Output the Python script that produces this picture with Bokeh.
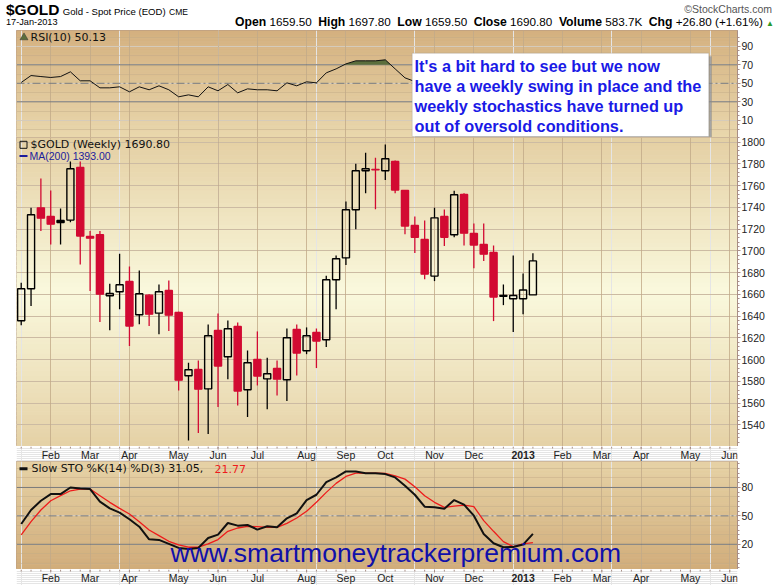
import numpy as np
import pandas as pd
from bokeh.plotting import figure
from bokeh.models import (Range1d, FixedTicker, Grid, Span, BoxAnnotation, Label, Div,
                          ColumnDataSource)
from bokeh.layouts import column
from bokeh.core.properties import value
from bokeh.embed import file_html
from bokeh.resources import INLINE

# ---------------- data ----------------
symbol = "$GOLD"
description = "Gold - Spot Price (EOD)"
exchange = "CME"
as_of = "17-Jan-2013"
first_week = "2012-01-16"
volume_text = "583.7K"
ma200_last = 1393.00

opens = [1635.7, 1665.1, 1739.6, 1731.7, 1728.0, 1728.3, 1776.7, 1713.3, 1714.8, 1658.7,
         1662.4, 1671.9, 1641.2, 1659.3, 1642.7, 1663.6, 1643.4, 1585.1, 1590.9, 1573.1,
         1626.8, 1602.6, 1630.5, 1572.2, 1600.1, 1582.3, 1591.9, 1581.4, 1627.7, 1608.1,
         1625.0, 1618.2, 1673.4, 1693.6, 1737.8, 1773.7, 1775.0, 1773.7, 1782.3, 1755.6,
         1723.4, 1710.5, 1676.8, 1731.7, 1714.8, 1751.9, 1716.0, 1705.9, 1698.5, 1659.0,
         1656.0, 1656.0, 1659.5]
highs = [1670.6, 1739.6, 1766.6, 1755.6, 1739.0, 1782.3, 1782.3, 1718.2, 1718.2, 1669.7,
         1697.3, 1685.7, 1682.0, 1660.2, 1669.1, 1672.8, 1644.0, 1597.1, 1599.2, 1632.3,
         1642.4, 1636.0, 1634.2, 1608.4, 1625.9, 1601.7, 1599.2, 1628.6, 1632.3, 1629.6,
         1628.6, 1677.1, 1695.8, 1745.5, 1780.1, 1790.2, 1785.6, 1797.9, 1783.2, 1755.6,
         1731.7, 1728.0, 1739.6, 1738.1, 1755.3, 1753.1, 1725.2, 1725.2, 1705.0, 1669.1,
         1695.8, 1679.2, 1697.8]
lows = [1631.7, 1649.2, 1718.2, 1705.9, 1705.9, 1726.4, 1687.5, 1663.0, 1634.5, 1627.1,
        1646.4, 1612.4, 1632.6, 1630.8, 1623.4, 1626.2, 1571.6, 1525.6, 1532.4, 1531.5,
        1556.3, 1582.0, 1557.8, 1547.1, 1576.2, 1554.4, 1567.0, 1561.8, 1585.4, 1605.0,
        1592.2, 1611.5, 1646.4, 1686.9, 1720.0, 1753.1, 1738.4, 1765.1, 1753.1, 1715.4,
        1698.0, 1674.0, 1672.2, 1704.4, 1712.6, 1705.0, 1684.1, 1690.6, 1635.4, 1650.1,
        1625.3, 1641.8, 1659.5]
closes = [1665.1, 1733.2, 1730.1, 1724.6, 1726.0, 1775.5, 1713.6, 1711.7, 1660.2, 1660.8,
          1668.8, 1630.8, 1660.5, 1641.8, 1662.4, 1640.9, 1581.1, 1590.6, 1572.8, 1621.9,
          1594.0, 1628.3, 1571.0, 1597.1, 1584.8, 1587.0, 1582.0, 1620.1, 1606.0, 1621.9,
          1617.0, 1673.4, 1692.7, 1737.8, 1773.7, 1775.5, 1774.5, 1784.7, 1755.9, 1722.8,
          1712.6, 1678.6, 1730.4, 1712.6, 1751.6, 1716.3, 1705.3, 1697.0, 1657.5, 1658.2,
          1659.0, 1664.0, 1690.8]
rsi = [50.9, 58.4, 57.3, 56.3, 57.3, 62.4, 52.7, 52.7, 45.1, 45.1,
       46.2, 40.8, 46.2, 43.0, 47.3, 43.0, 35.4, 37.5, 35.4, 46.2,
       41.9, 48.7, 39.7, 44.0, 43.0, 43.0, 41.9, 50.5, 47.3, 51.6,
       50.5, 61.3, 65.6, 71.0, 74.3, 74.3, 74.3, 75.4, 65.6, 55.9,
       52.0, 45.5, 53.0, 49.5, 55.0, 49.0, 47.0, 46.0, 40.0, 40.5,
       41.0, 44.0, 50.13]
sto_k = [41.4, 56.2, 66.0, 73.0, 73.0, 80.0, 79.0, 78.3, 65.0, 57.9,
         53.4, 46.4, 38.6, 25.3, 24.6, 20.4, 16.2, 15.1, 16.2, 26.7,
         30.2, 42.5, 39.7, 40.4, 35.5, 39.0, 37.9, 47.4, 52.7, 66.7,
         72.3, 85.7, 90.6, 96.9, 96.9, 95.1, 95.1, 94.1, 90.6, 81.8,
         72.3, 59.7, 59.0, 57.6, 66.7, 61.8, 50.2, 30.9, 21.1, 16.9,
         17.2, 19.7, 31.05]
sto_d = [29.9, 43.9, 56.2, 66.0, 71.3, 76.5, 78.3, 78.3, 71.3, 64.3,
         57.9, 52.0, 43.9, 35.1, 29.2, 23.2, 19.3, 16.9, 16.9, 20.4,
         25.0, 33.7, 37.2, 39.0, 38.6, 37.9, 37.9, 42.1, 47.8, 54.8,
         64.3, 74.8, 84.3, 91.6, 95.1, 95.1, 95.1, 94.8, 92.3, 88.8,
         80.7, 71.3, 64.3, 59.0, 60.4, 61.4, 59.7, 45.0, 33.7, 22.8,
         17.6, 20.4, 21.77]
price_ticks = list(range(1540, 1801, 20))
rsi_ticks = [10, 30, 50, 70, 90]
sto_ticks = [20, 50, 80]
note_lines = ["It's a bit hard to see but we now",
              "have a weekly swing in place and the",
              "weekly stochastics have turned up",
              "out of oversold conditions."]
watermark = "www.smartmoneytrackerpremium.com"

# ---------------- derived ----------------
n = len(closes)
idx = np.arange(n)
o = np.array(opens); c = np.array(closes)
prev = np.concatenate([[c[0] - 1], c[:-1]])
cand_color = np.where(c < prev, "#d20a32", "#000000")
cand_alpha = np.where(c < o, 1.0, 0.0)
top = np.maximum(o, c); bot = np.minimum(o, c)

axis_weeks = pd.date_range(first_week, periods=73, freq="7D")
month_idx, month_lab = [], []
for i, d in enumerate(axis_weeks):
    if i > 0 and d.month != axis_weeks[i - 1].month:
        month_idx.append(i)
        month_lab.append(str(d.year) if d.month == 1 else d.strftime("%b"))
month_style = ["bold" if l.isdigit() else "normal" for l in month_lab]

# ---------------- layout constants ----------------
W = 780
BL, BR = 16, 43
FW = W - BL - BR
x_range = Range1d(-0.478, 72.79)
OUT = "#a88e86"
GRID = "#c2aa88"


def X(px):  # page x -> data x
    return x_range.start + (px - BL) / FW * (x_range.end - x_range.start)


def make_fig(height, y0, y1):
    p = figure(width=W, height=height, x_range=x_range, y_range=Range1d(y0, y1),
               x_axis_location=None, y_axis_location="right",
               output_backend="svg", toolbar_location=None,
               min_border_left=BL, min_border_right=BR, min_border_top=0,
               min_border_bottom=0)
    p.outline_line_color = OUT
    p.outline_line_width = 1
    p.background_fill_color = "white"
    p.border_fill_color = "white"
    return p


def gradient(p, y0, y1, stops, nb=70):
    ys = np.linspace(y1, y0, nb + 1)
    cols = []
    for k in range(nb):
        t = (k + 0.5) / nb
        for j in range(len(stops) - 1):
            if stops[j][0] <= t <= stops[j + 1][0]:
                a, b = stops[j], stops[j + 1]
                f = (t - a[0]) / (b[0] - a[0])
                ca = np.array([int(a[1][i:i + 2], 16) for i in (1, 3, 5)])
                cb = np.array([int(b[1][i:i + 2], 16) for i in (1, 3, 5)])
                cc = (ca + (cb - ca) * f).round().astype(int)
                cols.append("#%02x%02x%02x" % tuple(cc))
                break
    p.quad(left=x_range.start, right=x_range.end, top=ys[:-1], bottom=ys[1:],
           fill_color=cols, line_color=cols, line_width=1, level="image")


def style_yaxis(p, ticks, minor):
    ax = p.yaxis[0]
    ax.ticker = FixedTicker(ticks=ticks, minor_ticks=minor)
    ax.axis_line_color = OUT
    ax.major_tick_line_color = OUT
    ax.minor_tick_line_color = OUT
    ax.major_tick_in = 0; ax.major_tick_out = 3
    ax.minor_tick_in = 0; ax.minor_tick_out = 2
    ax.major_label_text_font = "Liberation Sans"
    ax.major_label_text_font_size = "10.5px"
    ax.major_label_text_color = "#222222"
    ax.major_label_standoff = 1


def vgrid(p):
    p.add_layout(Grid(dimension=0, ticker=FixedTicker(ticks=month_idx),
                      grid_line_color=GRID, grid_line_alpha=0.8))


def hgrid(p, ticks, alpha=0.6):
    p.add_layout(Grid(dimension=1, ticker=FixedTicker(ticks=ticks),
                      grid_line_color=GRID, grid_line_alpha=alpha))


def month_strip(height, label_y):
    s = figure(width=W, height=height, x_range=x_range, y_range=Range1d(height, 0),
               x_axis_location=None, y_axis_location=None,
               output_backend="svg", toolbar_location=None,
               min_border_left=BL, min_border_right=BR, min_border_top=0,
               min_border_bottom=0)
    s.outline_line_color = None
    s.background_fill_color = "white"
    s.border_fill_color = "white"
    wk = list(range(0, 73))
    s.segment(x0=wk, y0=[0] * len(wk), x1=wk, y1=[2] * len(wk), line_color=OUT, line_width=1)
    s.segment(x0=month_idx, y0=[0] * len(month_idx), x1=month_idx, y1=[3] * len(month_idx),
              line_color=OUT, line_width=1)
    s.text(x=month_idx, y=[label_y] * len(month_idx), text=month_lab,
           text_font=value("Liberation Sans"), text_font_size=value("10.5px"),
           text_font_style=month_style, text_align="center", text_baseline="middle",
           text_color="#222222")
    return s


# ---------------- header ----------------
last_o, last_h, last_l, last_c = opens[-1], highs[-1], lows[-1], closes[-1]
chg = last_c - closes[-2]
chg_pct = chg / closes[-2] * 100
B = 'style="font-size:12.2px;font-weight:bold;"'
header_html = f"""
<div style="position:relative;width:{W}px;height:30px;font-family:'Liberation Sans',Arial,sans-serif;color:#000;overflow:hidden;">
 <div style="position:absolute;left:6px;top:2px;white-space:nowrap;line-height:16px;">
  <span style="font-size:15.5px;font-weight:bold;">{symbol}</span>
  <span style="font-size:9.6px;">{description}</span>
  <span style="font-size:8.5px;">{exchange}</span>
 </div>
 <div style="position:absolute;right:8px;top:3px;font-size:10.5px;color:#555;white-space:nowrap;line-height:12px;">&copy;StockCharts.com</div>
 <div style="position:absolute;left:6px;top:16px;font-size:9.2px;white-space:nowrap;line-height:12px;">{as_of}</div>
 <div style="position:absolute;right:6px;top:15px;font-size:11.7px;white-space:nowrap;line-height:14px;">
  <b {B}>Open</b> {last_o:.2f} &nbsp;<b {B}>High</b> {last_h:.2f} &nbsp;<b {B}>Low</b> {last_l:.2f}
  &nbsp;<b {B}>Close</b> {last_c:.2f} &nbsp;<b {B}>Volume</b> {volume_text}
  &nbsp;<b {B}>Chg</b> {chg:+.2f} ({chg_pct:+.2f}%) <span style="color:#2a9a2a;font-size:8px;">&#9650;</span>
 </div>
</div>"""
header = Div(text=header_html, width=W, height=30, margin=(0, 0, 0, 0))

# ---------------- RSI panel ----------------
R_TOP, R_H, r0, r1 = 30, 107, -8.6, 107.1


def YR(py):
    return r1 - (py - R_TOP) / R_H * (r1 - r0)


pr = make_fig(R_H, r0, r1)
gradient(pr, r0, r1, [(0, "#d4b07f"), (1, "#e9d7ad")])
vgrid(pr)
hgrid(pr, list(range(0, 101, 10)), 0.45)
style_yaxis(pr, rsi_ticks, list(range(0, 101, 5)))
for lv, dash in ((70, "solid"), (30, "solid"), (50, "8 3 2 3")):
    pr.add_layout(Span(location=lv, dimension="width", line_color="#7a7a7a",
                       line_width=1, line_dash=dash, level="underlay"))
fx, fy = [], []
rv = np.array(rsi)
for i in range(n):
    if i > 0 and (rv[i - 1] - 70) * (rv[i] - 70) < 0:
        t = (70 - rv[i - 1]) / (rv[i] - rv[i - 1])
        fx.append(i - 1 + t); fy.append(70.0)
    fx.append(i); fy.append(max(rv[i], 70.0))
pr.varea(x=fx, y1=70, y2=fy, fill_color="#5b6e3c")
pr.line(idx, rsi, line_color="#111111", line_width=1)
pr.scatter([X(23.5)], [YR(37)], marker="triangle", size=8, fill_color="#5b6e3c",
           line_color="#333333", line_width=0.5)
pr.add_layout(Label(x=X(30), y=YR(37), text=f"RSI(10) {rsi[-1]:.2f}", text_font="DejaVu Sans",
                    text_font_size="11px", text_baseline="middle", text_color="#111111"))
bx0, bx1, by0, by1 = X(411.7), X(708.3), YR(52.7), YR(136)
sh = X(414.7) - X(411.7)
pr.add_layout(BoxAnnotation(left=bx0 + sh, right=bx1 + sh, top=YR(55.7), bottom=r0,
                            fill_color="#8a8a8a", fill_alpha=0.7, line_color=None))
pr.add_layout(BoxAnnotation(left=bx0, right=bx1, top=by0, bottom=by1,
                            fill_color="white", fill_alpha=1.0, line_color="#8c8c8c",
                            line_width=1))
for k, line in enumerate(note_lines):
    pr.add_layout(Label(x=X(414), y=YR(65 + 20 * k), text=line, text_font="Liberation Sans",
                        text_font_style="bold", text_font_size="16.3px",
                        text_color="#1a1ae6", text_baseline="middle"))

# ---------------- main price panel ----------------
M_TOP, M_H, m0, m1 = 137, 309, 1520.05, 1804.3


def YM(py):
    return m1 - (py - M_TOP) / M_H * (m1 - m0)


pm = make_fig(M_H, m0, m1)
gradient(pm, m0, m1, [(0, "#e4cfa3"), (0.5, "#faf9dd"), (1, "#e5d1a6")])
vgrid(pm)
hgrid(pm, price_ticks, 0.7)
style_yaxis(pm, price_ticks, list(range(1520, 1805, 4)))
src = ColumnDataSource(dict(x=idx, high=highs, low=lows, top=top, bot=bot,
                            color=cand_color, alpha=cand_alpha))
pm.segment(x0="x", y0="high", x1="x", y1="top", line_color="color", line_width=1.3, source=src)
pm.segment(x0="x", y0="bot", x1="x", y1="low", line_color="color", line_width=1.3, source=src)
pm.vbar(x="x", width=0.72, top="top", bottom="bot", fill_color="color", fill_alpha="alpha",
        line_color="color", line_width=1.4, source=src)
pm.add_layout(Label(x=X(30), y=YM(144.3), text=f"{symbol} (Weekly) {closes[-1]:.2f}",
                    text_font="DejaVu Sans", text_font_size="11px", text_baseline="middle",
                    text_color="#111111"))
pm.add_layout(Label(x=X(29), y=YM(155.5), text=f"MA(200) {ma200_last:.2f}",
                    text_font="Liberation Sans", text_font_size="10.5px", text_baseline="middle",
                    text_color="#1c1c9c"))
pm.segment(x0=[X(19)], y0=[YM(155.5)], x1=[X(27)], y1=[YM(155.5)], line_color="#1c1c9c",
           line_width=2)
pm.scatter([X(23)], [YM(144.3)], marker="square", size=7, fill_color=None,
           line_color="#111111", line_width=1)

strip1 = month_strip(15, 8.5)

# ---------------- stochastics panel ----------------
S_TOP, S_H, s0, s1 = 461, 108, -6.6, 107.4


def YS(py):
    return s1 - (py - S_TOP) / S_H * (s1 - s0)


ps = make_fig(S_H, s0, s1)
gradient(ps, s0, s1, [(0, "#e6d2a6"), (1, "#d1ad7b")])
vgrid(ps)
hgrid(ps, list(range(-10, 111, 10)), 0.45)
style_yaxis(ps, sto_ticks, list(range(-5, 106, 5)))
for lv, dash in ((80, "solid"), (20, "solid"), (50, "8 3 2 3")):
    ps.add_layout(Span(location=lv, dimension="width", line_color="#7a7a7a",
                       line_width=1, line_dash=dash, level="underlay"))
ps.line(idx, sto_d, line_color="#ee1c1c", line_width=1.3)
ps.line(idx, sto_k, line_color="#111111", line_width=2)
ps.segment(x0=[X(19)], y0=[YS(468.3)], x1=[X(27)], y1=[YS(468.3)], line_color="#111111",
           line_width=3)
ps.add_layout(Label(x=X(31), y=YS(468.3), text=f"Slow STO %K(14) %D(3) {sto_k[-1]:.2f},",
                    text_font="DejaVu Sans", text_font_size="11px", text_baseline="middle",
                    text_color="#111111"))
ps.add_layout(Label(x=X(214), y=YS(468.3), text=f"{sto_d[-1]:.2f}",
                    text_font="DejaVu Sans", text_font_size="11px", text_baseline="middle",
                    text_color="#ee1c1c"))
ps.add_layout(Label(x=X(170), y=YS(552.5), text=watermark, text_font="Liberation Sans",
                    text_font_size="26.5px", text_baseline="middle", text_color="#1010aa"))

strip2 = month_strip(16, 8.5)

layout = column(header, pr, pm, strip1, ps, strip2, spacing=0)
open("out.html", "w").write(file_html(layout, INLINE))
